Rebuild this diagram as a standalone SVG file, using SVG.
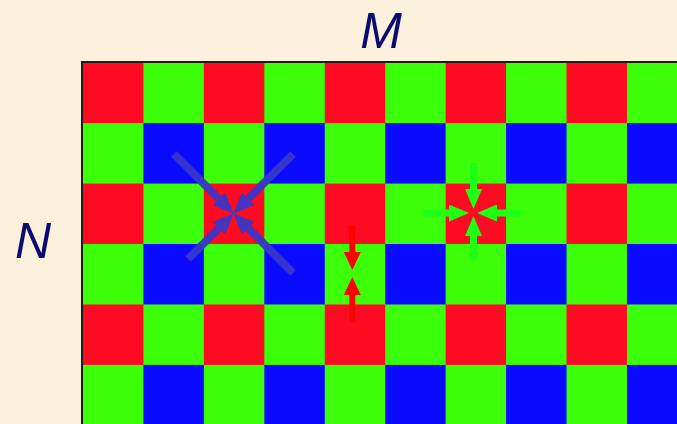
<svg xmlns="http://www.w3.org/2000/svg" width="677" height="424" viewBox="0 0 677 424">
<style>
.r{fill:#FF0A23}
.b{fill:#0A0AFF}
.g{fill:#3CFF0A}
.lbl{font-family:"Liberation Sans",Arial,sans-serif;font-style:italic;font-size:50px;fill:#0B0B70;text-anchor:middle}
.bl{stroke:#3838C8;stroke-width:8;fill:none;marker-end:url(#hb)}
.gl{stroke:#1EFF14;stroke-width:7;fill:none;marker-end:url(#hg)}
.rl{stroke:#FF0000;stroke-width:6;fill:none;marker-end:url(#hr)}
</style>
<defs>
<linearGradient id="bg" x1="0" y1="0" x2="1" y2="1">
<stop offset="0" stop-color="#FBF0DC"/>
<stop offset="0.5" stop-color="#FCF1DB"/>
<stop offset="1" stop-color="#FAEDD6"/>
</linearGradient>
<marker id="hb" markerUnits="userSpaceOnUse" markerWidth="21" markerHeight="18" viewBox="0 0 21 18" refX="0" refY="9" orient="auto"><path d="M0,0 L21,9 L0,18 z" fill="#3838C8"/></marker>
<marker id="hg" markerUnits="userSpaceOnUse" markerWidth="20" markerHeight="17" viewBox="0 0 20 17" refX="0" refY="8.5" orient="auto"><path d="M0,0 L20,8.5 L0,17 z" fill="#1EFF14"/></marker>
<marker id="hr" markerUnits="userSpaceOnUse" markerWidth="18" markerHeight="17" viewBox="0 0 18 17" refX="0" refY="8.5" orient="auto"><path d="M0,0 L18,8.5 L0,17 z" fill="#FF0000"/></marker>
</defs>
<rect width="677" height="424" fill="url(#bg)"/>
<g id="mosaic">
<rect class="g" x="83" y="62.7" width="600" height="370"/>
<rect class="r" x="83" y="62.7" width="60.44" height="60.44"/>
<rect class="r" x="203.88" y="62.7" width="60.44" height="60.44"/>
<rect class="r" x="324.76" y="62.7" width="60.44" height="60.44"/>
<rect class="r" x="445.64" y="62.7" width="60.44" height="60.44"/>
<rect class="r" x="566.52" y="62.7" width="60.44" height="60.44"/>
<rect class="r" x="83" y="183.58" width="60.44" height="60.44"/>
<rect class="r" x="203.88" y="183.58" width="60.44" height="60.44"/>
<rect class="r" x="324.76" y="183.58" width="60.44" height="60.44"/>
<rect class="r" x="445.64" y="183.58" width="60.44" height="60.44"/>
<rect class="r" x="566.52" y="183.58" width="60.44" height="60.44"/>
<rect class="r" x="83" y="304.46" width="60.44" height="60.44"/>
<rect class="r" x="203.88" y="304.46" width="60.44" height="60.44"/>
<rect class="r" x="324.76" y="304.46" width="60.44" height="60.44"/>
<rect class="r" x="445.64" y="304.46" width="60.44" height="60.44"/>
<rect class="r" x="566.52" y="304.46" width="60.44" height="60.44"/>
<rect class="b" x="143.44" y="123.14" width="60.44" height="60.44"/>
<rect class="b" x="264.32" y="123.14" width="60.44" height="60.44"/>
<rect class="b" x="385.2" y="123.14" width="60.44" height="60.44"/>
<rect class="b" x="506.08" y="123.14" width="60.44" height="60.44"/>
<rect class="b" x="626.96" y="123.14" width="60.44" height="60.44"/>
<rect class="b" x="143.44" y="244.02" width="60.44" height="60.44"/>
<rect class="b" x="264.32" y="244.02" width="60.44" height="60.44"/>
<rect class="b" x="385.2" y="244.02" width="60.44" height="60.44"/>
<rect class="b" x="506.08" y="244.02" width="60.44" height="60.44"/>
<rect class="b" x="626.96" y="244.02" width="60.44" height="60.44"/>
<rect class="b" x="143.44" y="364.9" width="60.44" height="60.44"/>
<rect class="b" x="264.32" y="364.9" width="60.44" height="60.44"/>
<rect class="b" x="385.2" y="364.9" width="60.44" height="60.44"/>
<rect class="b" x="506.08" y="364.9" width="60.44" height="60.44"/>
<rect class="b" x="626.96" y="364.9" width="60.44" height="60.44"/>
<path d="M82,430 V62 H690" fill="none" stroke="#1E1E1E" stroke-width="2"/>
</g>
<g id="labels">
<text id="label-M" class="lbl" x="381" y="48">M</text>
<text id="label-N" class="lbl" x="33" y="258">N</text>
</g>
<g id="connectors">
<g id="blue-arrows" opacity="0.94">
<path class="bl" d="M174,154 L218.7,198.7"/>
<path class="bl" d="M293,154 L248.3,198.7"/>
<path class="bl" d="M188,259 L218.7,228.3"/>
<path class="bl" d="M293,273 L248.3,228.3"/>
</g>
<g id="green-arrows">
<path class="gl" d="M473.5,163 V189"/>
<path class="gl" d="M473.5,259 V236"/>
<path class="gl" d="M423,213 H449"/>
<path class="gl" d="M521,213 H497"/>
</g>
<g id="red-arrows">
<path class="rl" d="M352.3,225 V252"/>
<path class="rl" d="M352.3,322 V295"/>
</g>
</g>
</svg>
